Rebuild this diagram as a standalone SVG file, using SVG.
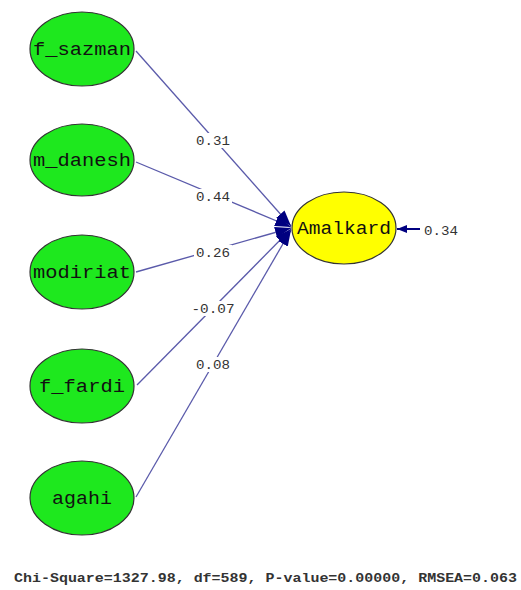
<svg xmlns="http://www.w3.org/2000/svg" width="521" height="590" viewBox="0 0 521 590">
  <style>
    .exo ellipse { fill: #1ee81e; stroke: #333; stroke-width: 1.2; }
    .endo ellipse { fill: #ffff00; stroke: #333; stroke-width: 1.2; }
    .nlabel { font-family: "Liberation Mono", "Courier New", monospace; font-size: 18px; fill: #111; text-anchor: middle; }
    .path { stroke: #5a5aaa; stroke-width: 1.3; fill: none; marker-end: url(#head); }
    .coef { font-family: "Liberation Mono", "Courier New", monospace; font-size: 13px; fill: #333; text-anchor: middle; }
    .coefbg { fill: #fff; }
    .fit { font-family: "Liberation Mono", "Courier New", monospace; font-size: 13px; font-weight: bold; fill: #333; }
  </style>
  <defs>
    <marker id="head" viewBox="0 0 16 11" refX="16" refY="5.5" markerWidth="16" markerHeight="11" markerUnits="userSpaceOnUse" orient="auto">
      <path d="M0,0 L16,5.5 L0,11 Z" fill="#000080"/>
    </marker>
    <marker id="headsmall" viewBox="0 0 10 8" refX="10" refY="4" markerWidth="10" markerHeight="8" markerUnits="userSpaceOnUse" orient="auto">
      <path d="M0,0 L10,4 L0,8 Z" fill="#000080"/>
    </marker>
  </defs>
  <rect width="521" height="590" fill="#fff"/>

  <!-- structural paths -->
  <g id="connectors">
    <line class="path" x1="136" y1="51" x2="291" y2="226"/>
    <line class="path" x1="136" y1="162" x2="291" y2="227"/>
    <line class="path" x1="136" y1="272" x2="291" y2="228"/>
    <line class="path" x1="137" y1="385" x2="291" y2="229"/>
    <line class="path" x1="136" y1="497" x2="291" y2="230"/>
    <line x1="420" y1="229" x2="397" y2="229" stroke="#000080" stroke-width="2" marker-end="url(#headsmall)"/>

    <rect class="coefbg" x="194" y="133" width="38" height="15"/>
    <text class="coef" x="213" y="145" textLength="34" lengthAdjust="spacingAndGlyphs">0.31</text>
    <rect class="coefbg" x="194" y="189" width="38" height="15"/>
    <text class="coef" x="213" y="201" textLength="34" lengthAdjust="spacingAndGlyphs">0.44</text>
    <rect class="coefbg" x="194" y="245" width="38" height="15"/>
    <text class="coef" x="213" y="257" textLength="34" lengthAdjust="spacingAndGlyphs">0.26</text>
    <rect class="coefbg" x="189" y="301" width="48" height="15"/>
    <text class="coef" x="213" y="313" textLength="43" lengthAdjust="spacingAndGlyphs">-0.07</text>
    <rect class="coefbg" x="194" y="357" width="38" height="15"/>
    <text class="coef" x="213" y="369" textLength="34" lengthAdjust="spacingAndGlyphs">0.08</text>
    <text class="coef" x="441" y="235" textLength="34" lengthAdjust="spacingAndGlyphs">0.34</text>
  </g>

  <g id="f_sazman" class="exo">
    <ellipse cx="82" cy="49" rx="52" ry="37"/>
    <text class="nlabel" x="82" y="55" textLength="98" lengthAdjust="spacingAndGlyphs">f_sazman</text>
  </g>
  <g id="m_danesh" class="exo">
    <ellipse cx="82" cy="160" rx="52" ry="36"/>
    <text class="nlabel" x="82" y="166" textLength="98" lengthAdjust="spacingAndGlyphs">m_danesh</text>
  </g>
  <g id="modiriat" class="exo">
    <ellipse cx="82" cy="272" rx="52" ry="37"/>
    <text class="nlabel" x="82" y="278" textLength="98" lengthAdjust="spacingAndGlyphs">modiriat</text>
  </g>
  <g id="f_fardi" class="exo">
    <ellipse cx="82" cy="386" rx="52" ry="37"/>
    <text class="nlabel" x="82" y="392" textLength="86" lengthAdjust="spacingAndGlyphs">f_fardi</text>
  </g>
  <g id="agahi" class="exo">
    <ellipse cx="82" cy="498" rx="52" ry="37"/>
    <text class="nlabel" x="82" y="504" textLength="60" lengthAdjust="spacingAndGlyphs">agahi</text>
  </g>
  <g id="Amalkard" class="endo">
    <ellipse cx="344" cy="228" rx="52" ry="36"/>
    <text class="nlabel" x="344" y="234" textLength="94" lengthAdjust="spacingAndGlyphs">Amalkard</text>
  </g>

  <text class="fit" x="14" y="582" textLength="503" lengthAdjust="spacingAndGlyphs">Chi-Square=1327.98, df=589, P-value=0.00000, RMSEA=0.063</text>
</svg>
